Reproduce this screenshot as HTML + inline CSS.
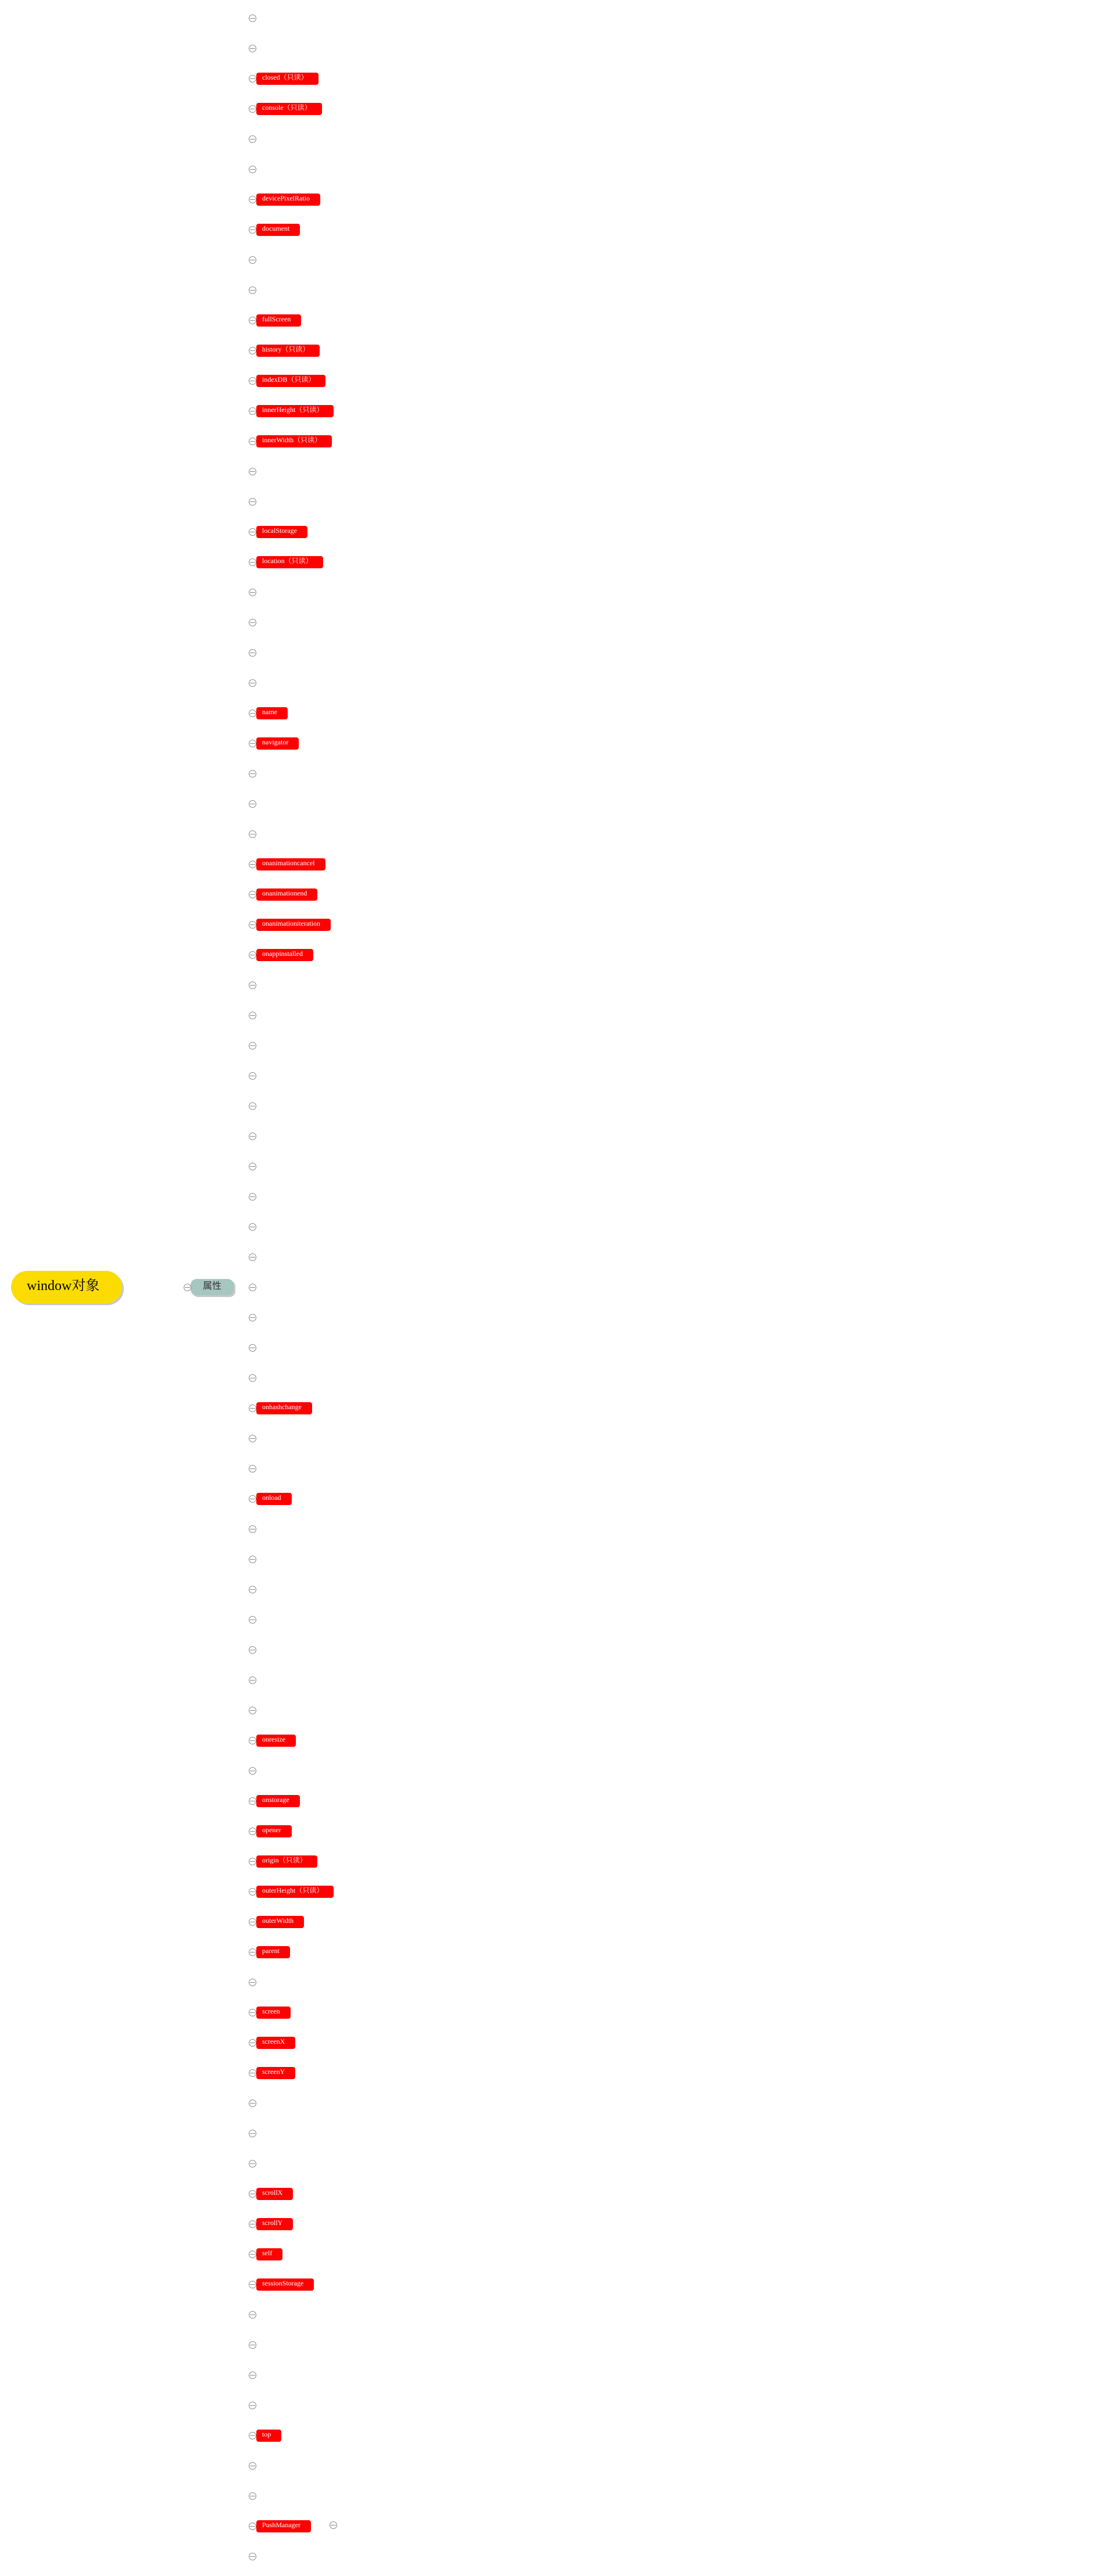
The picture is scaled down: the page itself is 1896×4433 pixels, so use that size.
<!DOCTYPE html>
<html><head><meta charset="utf-8">
<style>
html,body{margin:0;padding:0;background:#fff;width:1896px;height:4433px;position:relative;overflow:hidden}
.c{position:absolute;width:13px;height:13px;border:1.3px solid #888;border-radius:50%;box-sizing:border-box}
.c::after{content:"";position:absolute;left:1px;right:1px;top:4.7px;height:1.3px;background:#888}
.n{position:absolute;left:441px;height:21px;background:#ff0000;color:#fff;border-radius:4px;font:12px/16px "Liberation Serif","Noto Serif CJK SC",serif;padding:0 18px 0 10px;white-space:nowrap;box-sizing:border-box}
#root{position:absolute;left:19px;top:2187px;width:191px;height:56px;border-radius:28px;background:#fcdc00;box-shadow:3px 3px 0 #c8c8c8;font:24px/52px "Liberation Serif","Noto Serif CJK SC",serif;color:#000;text-indent:27px}
#attr{position:absolute;left:328px;top:2201px;width:74px;height:28px;border-radius:10px;background:#a6c6c0;box-shadow:3px 3px 0 #c8c8c8;font:16px/26px "Liberation Sans","Noto Sans CJK SC",sans-serif;color:#333;text-align:center}
</style></head><body>
<div id="root">window对象</div>
<div id="attr">属性</div>
<div class="c" style="left:316px;top:2209px"></div>
<div class="c" style="left:567px;top:4339px"></div>
<div id="rows"></div>
<script>
var labels={2:"closed（只读）",3:"console（只读）",6:"devicePixelRatio",7:"document",10:"fullScreen",11:"history（只读）",12:"indexDB（只读）",13:"innerHeight（只读）",14:"innerWidth（只读）",17:"localStorage",18:"location（只读）",23:"name",24:"navigator",28:"onanimationcancel",29:"onanimationend",30:"onanimationiteration",31:"onappinstalled",46:"onhashchange",49:"onload",57:"onresize",59:"onstorage",60:"opener",61:"origin（只读）",62:"outerHeight（只读）",63:"outerWidth",64:"parent",66:"screen",67:"screenX",68:"screenY",72:"scrollX",73:"scrollY",74:"self",75:"sessionStorage",80:"top",83:"PushManager"};
var h="";
for(var k=0;k<85;k++){var cy=31+52*k;
h+='<div class="c" style="left:428px;top:'+(cy-6)+'px"></div>';
if(labels[k])h+='<div class="n" style="top:'+(cy-10)+'px">'+labels[k]+'</div>';}
document.getElementById("rows").innerHTML=h;
</script>
</body></html>
